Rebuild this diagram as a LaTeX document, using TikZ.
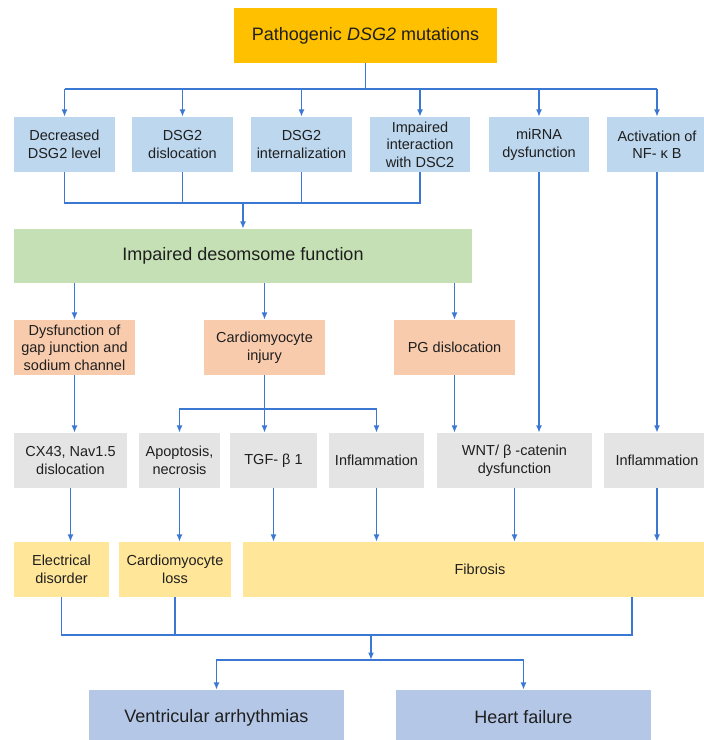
\documentclass[tikz,border=0pt]{standalone}
\usepackage{fontspec}
\setmainfont{Liberation Sans}
\usetikzlibrary{arrows.meta}

\definecolor{topfill}{HTML}{FFC000}
\definecolor{rowblue}{HTML}{BDD7EE}
\definecolor{rowgreen}{HTML}{C5E0B4}
\definecolor{roworange}{HTML}{F8CBAD}
\definecolor{rowgray}{HTML}{E4E4E4}
\definecolor{rowyellow}{HTML}{FFE699}
\definecolor{endblue}{HTML}{B4C7E7}
\definecolor{linkblue}{HTML}{3B78D4}

\tikzset{
  box/.style={rectangle, inner sep=1pt, align=center, minimum height=55pt,
    text=black!88, font=\fontsize{14.5}{17.5}\selectfont},
  bigbox/.style={box, font=\fontsize{18}{22}\selectfont},
  topbox/.style={bigbox, fill=topfill},
  bluebox/.style={box, fill=rowblue},
  greenbox/.style={bigbox, fill=rowgreen},
  orangebox/.style={box, fill=roworange},
  graybox/.style={box, fill=rowgray},
  yellowbox/.style={box, fill=rowyellow},
  endbox/.style={bigbox, fill=endblue},
  link/.style={draw=linkblue, line width=1.5pt},
  arr/.style={link, -{Latex[length=7.5pt,width=6pt]}}
}

\begin{document}
\begin{tikzpicture}[x=1pt,y=-1pt]
  \useasboundingbox (0,0) rectangle (704,740);

  % causes
  \node[topbox, minimum width=263pt] (top) at (365.5,35.5) {Pathogenic \textit{DSG2} mutations};
  \node[bluebox, minimum width=101pt] (b1) at (64.5,144.5) {Decreased\\DSG2 level};
  \node[bluebox, minimum width=101pt] (b2) at (182.5,144.5) {DSG2\\dislocation};
  \node[bluebox, minimum width=101pt] (b3) at (301.5,144.5) {DSG2\\internalization};
  \node[bluebox, minimum width=100pt] (b4) at (420,144.5) {Impaired\\interaction\\with DSC2};
  \node[bluebox, minimum width=100pt] (b5) at (539,144.5) {miRNA\\dysfunction};
  \node[bluebox, minimum width=100pt] (b6) at (657,144.5) {Activation of\\NF- κ B};

  \node[greenbox, minimum width=458pt, minimum height=54pt] (desmo) at (243,256) {Impaired desomsome function};

  \node[orangebox, minimum width=121pt] (o1) at (74.5,347.5) {Dysfunction of\\gap junction and\\sodium channel};
  \node[orangebox, minimum width=121pt] (o2) at (264.5,347.5) {Cardiomyocyte\\injury};
  \node[orangebox, minimum width=121pt] (o3) at (454.5,347.5) {PG dislocation};

  \node[graybox, minimum width=113pt] (g1) at (70.5,460.5) {CX43, Nav1.5\\dislocation};
  \node[graybox, minimum width=81pt] (g2) at (179.5,460.5) {Apoptosis,\\necrosis};
  \node[graybox, minimum width=87pt] (g3) at (273.5,460.5) {TGF- β 1};
  \node[graybox, minimum width=95pt] (g4) at (376.5,460.5) {Inflammation};
  \node[graybox, minimum width=155pt] (g5) at (514.5,460.5) {WNT/ β -catenin\\dysfunction};
  \node[graybox, minimum width=106pt] (g6) at (657,460.5) {Inflammation};

  \node[yellowbox, minimum width=95pt] (y1) at (61.5,569.5) {Electrical\\disorder};
  \node[yellowbox, minimum width=112pt] (y2) at (175,569.5) {Cardiomyocyte\\loss};
  \node[yellowbox, minimum width=474pt] (y3) at (480,569.5) {Fibrosis};

  \node[endbox, minimum width=255pt] (z1) at (216.5,717.5) {Ventricular arrhythmias};
  \node[endbox, minimum width=255pt] (z2) at (523.5,717.5) {Heart failure};

  % junction points
  \coordinate (fork1) at (365.5,89);
  \coordinate (join1) at (243,203);
  \coordinate (fork2) at (264.5,409);
  \coordinate (fibout) at (632,597);
  \coordinate (join2) at (371,635);
  \coordinate (fork3) at (371,660);

  % connectors
  \draw[link] (top.south) -- (fork1);
  \draw[link] (fork1 -| b1) -- (fork1 -| b6);
  \foreach \b in {b1,b2,b3,b4,b5,b6}
    \draw[arr] (fork1 -| \b) -- (\b.north);
  \foreach \b in {b1,b2,b3,b4}
    \draw[link] (\b.south) |- (join1);
  \draw[arr] (join1) -- (desmo.north);
  \foreach \o in {o1,o2,o3}
    \draw[arr] (desmo.south -| \o) -- (\o.north);

  \draw[arr] (o1.south) -- (o1.south |- g1.north);
  \draw[arr] (o2.south) -- (o2.south |- g3.north);
  \draw[arr] (fork2) -| (g2.north);
  \draw[arr] (fork2) -| (g4.north);
  \draw[arr] (o3.south) -- (o3.south |- g5.north);
  \draw[arr] (b5.south) -- (b5.south |- g5.north);
  \draw[arr] (b6.south) -- (g6.north);

  \draw[arr] (g1.south) -- (g1.south |- y1.north);
  \draw[arr] (g2.south) -- (g2.south |- y2.north);
  \foreach \g in {g3,g4,g5,g6}
    \draw[arr] (\g.south) -- (\g.south |- y3.north);

  \draw[link] (y1.south) |- (join2);
  \draw[link] (y2.south) -- (y2.south |- join2);
  \draw[link] (fibout) |- (join2);
  \draw[arr] (join2) -- (fork3);
  \draw[arr] (fork3) -| (z1.north);
  \draw[arr] (fork3) -| (z2.north);
\end{tikzpicture}
\end{document}
